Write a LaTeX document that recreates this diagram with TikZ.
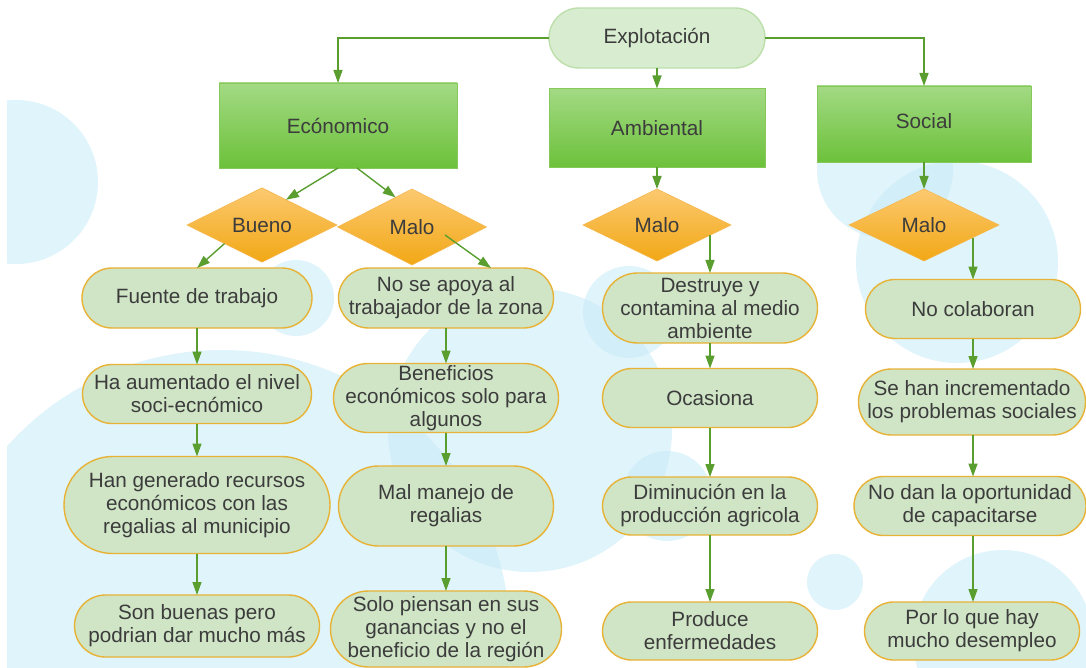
\documentclass[tikz,border=0pt]{standalone}
\usepackage{fontspec}
\setmainfont{Liberation Sans}
\usetikzlibrary{shapes.geometric,arrows.meta,calc}
\definecolor{txt}{HTML}{3C3C3C}
\definecolor{arrowc}{HTML}{5A9E2F}
\definecolor{pillfill}{HTML}{CFE5C6}
\definecolor{pillborder}{HTML}{E8B236}
\definecolor{topfill}{HTML}{D8EDCF}
\definecolor{topborder}{HTML}{BCDFAC}
\definecolor{boxtop}{HTML}{A3DA84}
\definecolor{boxbot}{HTML}{6CC13A}
\definecolor{boxborder}{HTML}{86C95A}
\definecolor{diatop}{HTML}{FCC970}
\definecolor{diabot}{HTML}{F2A815}
\definecolor{diaborder}{HTML}{F5B74E}
\definecolor{bubble}{RGB}{200,235,248}
\begin{document}
\begin{tikzpicture}[x=1pt,y=-1pt,
  every node/.style={font=\fontsize{20.7}{23}\selectfont, text=txt, align=center, inner sep=0pt, outer sep=0pt},
  pill/.style n args={2}{draw=pillborder, line width=1.4pt, fill=pillfill,
     minimum width=#1, minimum height=#2, rounded corners=#2/2},
  toppill/.style n args={2}{draw=topborder, line width=1.4pt, fill=topfill,
     minimum width=#1, minimum height=#2, rounded corners=#2/2},
  boxg/.style n args={2}{draw=boxborder, line width=0.8pt, top color=boxtop, bottom color=boxbot,
     minimum width=#1, minimum height=#2},
  dia/.style n args={2}{shape=diamond, draw=diaborder, line width=0.6pt, top color=diatop, bottom color=diabot,
     minimum width=#1, minimum height=#2},
  arr/.style={draw=arrowc, line width=1.4pt, -{Triangle[length=13pt,width=9pt]}},
  bub/.style={fill=bubble, opacity=0.55}
]
\useasboundingbox (0,0) rectangle (1086,668);
\fill[white] (0,0) rectangle (1086,668);
% background bubbles
\begin{scope}
\clip (7,0) rectangle (1086,667);
\fill[bub] (16,182) circle[radius=82];
\fill[bub] (296,298) circle[radius=38];
\fill[bub] (222,638) circle[radius=288];
\fill[bub] (530,430) circle[radius=142];
\fill[bub] (629,312) circle[radius=46];
\fill[bub] (667,496) circle[radius=45];
\fill[bub] (835,582) circle[radius=28];
\fill[bub] (885,170) circle[radius=68];
\fill[bub] (957,262) circle[radius=101];
\fill[bub] (1003,640) circle[radius=90];
\end{scope}

% top
\node[toppill={216}{60}] (expl) at (657,38) {Explotación};
\node[boxg={238}{85}] (econ) at (338,125.5) {Ecónomico};
\node[boxg={216}{79}] (amb) at (657,128) {Ambiental};
\node[boxg={214}{76}] (social) at (924,124) {};
\node (socialtxt) at ($(social.center)+(0,-3)$) {Social};

% diamonds
\node[dia={150}{74}] (bueno) at (262,225) {Bueno};
\node[dia={149}{76}] (maloE) at (412,227) {Malo};
\node[dia={148}{72}] (maloA) at (657,225) {Malo};
\node[dia={150}{72}] (maloS) at (924,225) {Malo};

% column 1
\node[pill={230}{60}] (fuente) at (197,298) {Fuente de trabajo};
\node[pill={229}{59}] (haaum) at (197,394) {Ha aumentado el nivel\\soci-ecnómico};
\node[pill={266}{97}] (hangen) at (197,505) {Han generado recursos\\económicos con las\\regalias al municipio};
\node[pill={245}{62}] (sonb) at (197,626) {Son buenas pero\\podrian dar mucho más};

% column 2
\node[pill={215}{60}] (noapoya) at (446,298) {No se apoya al\\trabajador de la zona};
\node[pill={225}{69}] (benef) at (446,398) {Beneficios\\económicos solo para\\algunos};
\node[pill={215}{80}] (malman) at (446,506) {Mal manejo de\\regalias};
\node[pill={231}{76}] (solo) at (446,629) {Solo piensan en sus\\ganancias y no el\\beneficio de la región};

% column 3
\node[pill={215}{70}] (destruye) at (710,308) {Destruye y\\contamina al medio\\ambiente};
\node[pill={215}{59}] (ocasiona) at (710,398) {Ocasiona};
\node[pill={215}{58}] (dismin) at (710,506) {Diminución en la\\producción agricola};
\node[pill={215}{58}] (produce) at (710,631) {Produce\\enfermedades};

% column 4
\node[pill={215}{59}] (nocolab) at (973,309) {No colaboran};
\node[pill={227}{66}] (sehan) at (972,402) {Se han incrementado\\los problemas sociales};
\node[pill={232}{59}] (nodan) at (970,506) {No dan la oportunidad\\de capacitarse};
\node[pill={215}{58}] (porlo) at (972,631) {Por lo que hay\\mucho desempleo};

% connectors
\draw[arr] (expl.west) -| (econ.north);
\draw[arr] (expl.south) -- (amb.north);
\draw[arr] (expl.east) -| (social.north);

\draw[arr] (econ.south) -- ($(bueno.north)!0.32!(bueno.east)$);
\draw[arr] ($(econ.south)+(19,0)$) -- ($(maloE.north)!0.22!(maloE.west)$);
\draw[arr] ($(bueno.south)!0.5!(bueno.west)$) -- (fuente.north);
\draw[arr] ($(maloE.center)+(33,8)$) -- ($(noapoya.north)+(45,0)$);

\draw[arr] (amb.south) -- (maloA.north);
\coordinate (sA) at ($(maloA.east)!0.28!(maloA.south)$);
\draw[arr] (destruye.north |- sA) -- (destruye.north);

\draw[arr] (social.south) -- (maloS.north);
\coordinate (sS) at ($(maloS.east)!0.35!(maloS.south)$);
\draw[arr] (nocolab.north |- sS) -- (nocolab.north);

\draw[arr] (fuente.south) -- (haaum.north);
\draw[arr] (haaum.south) -- (hangen.north);
\draw[arr] (hangen.south) -- (sonb.north);

\draw[arr] (noapoya.south) -- (benef.north);
\draw[arr] (benef.south) -- (malman.north);
\draw[arr] (malman.south) -- (solo.north);

\draw[arr] (destruye.south) -- (ocasiona.north);
\draw[arr] (ocasiona.south) -- (dismin.north);
\draw[arr] (dismin.south) -- (produce.north);

\draw[arr] (nocolab.south) -- (sehan.north -| nocolab.south);
\draw[arr] (sehan.south -| nocolab.south) -- (nodan.north -| nocolab.south);
\draw[arr] (nodan.south -| nocolab.south) -- (porlo.north -| nocolab.south);
\end{tikzpicture}
\end{document}
